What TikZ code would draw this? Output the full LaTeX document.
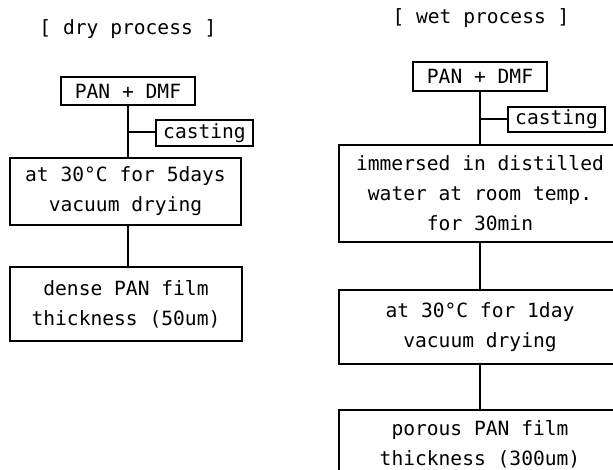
\documentclass[tikz,border=0pt]{standalone}
\usepackage{fontspec}
\setmonofont{DejaVu Sans Mono}
\begin{document}
\begin{tikzpicture}[x=1pt,y=-1pt,
  txt/.style={font=\ttfamily\fontsize{19.6}{30}\selectfont, align=center, inner sep=0pt},
  box/.style={txt, draw, line width=1.7pt, rectangle},
  link/.style={line width=1.7pt}]
\useasboundingbox (0,0) rectangle (613,470);
% dry process
\node[txt] (t1) at (128,29) {[ dry process ]};
\node[box, minimum width=134pt, minimum height=28pt] (p1) at (128,91) {PAN + DMF};
\node[box, minimum width=97pt, minimum height=26pt] (c1) at (204.5,133) {casting};
\node[box, minimum width=231pt, minimum height=67pt] (d1) at (125.5,191.5) {at 30°C for 5days\\vacuum drying};
\node[box, minimum width=232pt, minimum height=74pt] (d2) at (126,304) {dense PAN film\\thickness (50um)};
\coordinate (j1) at (128,132);
\draw[link] (p1.south) -- (p1.south |- d1.north);
\draw[link] (j1) -- (c1.west |- j1);
\draw[link] (p1.south |- d1.south) -- (p1.south |- d2.north);
% wet process
\node[txt] (t2) at (481,18) {[ wet process ]};
\node[box, minimum width=134pt, minimum height=29pt] (p2) at (480,76.5) {PAN + DMF};
\node[box, minimum width=97pt, minimum height=25pt] (c2) at (556.5,119.5) {casting};
\node[box, minimum width=282pt, minimum height=97pt] (w1) at (480,193.5) {immersed in distilled\\water at room temp.\\for 30min};
\node[box, minimum width=282pt, minimum height=74pt] (w2) at (480,327) {at 30°C for 1day\\vacuum drying};
\node[box, minimum width=282pt, minimum height=68pt] (w3) at (480,444) {porous PAN film\\thickness (300um)};
\coordinate (j2) at (480,119);
\draw[link] (p2.south) -- (w1.north);
\draw[link] (j2) -- (c2.west |- j2);
\draw[link] (w1.south) -- (w2.north);
\draw[link] (w2.south) -- (w3.north);
\end{tikzpicture}
\end{document}
